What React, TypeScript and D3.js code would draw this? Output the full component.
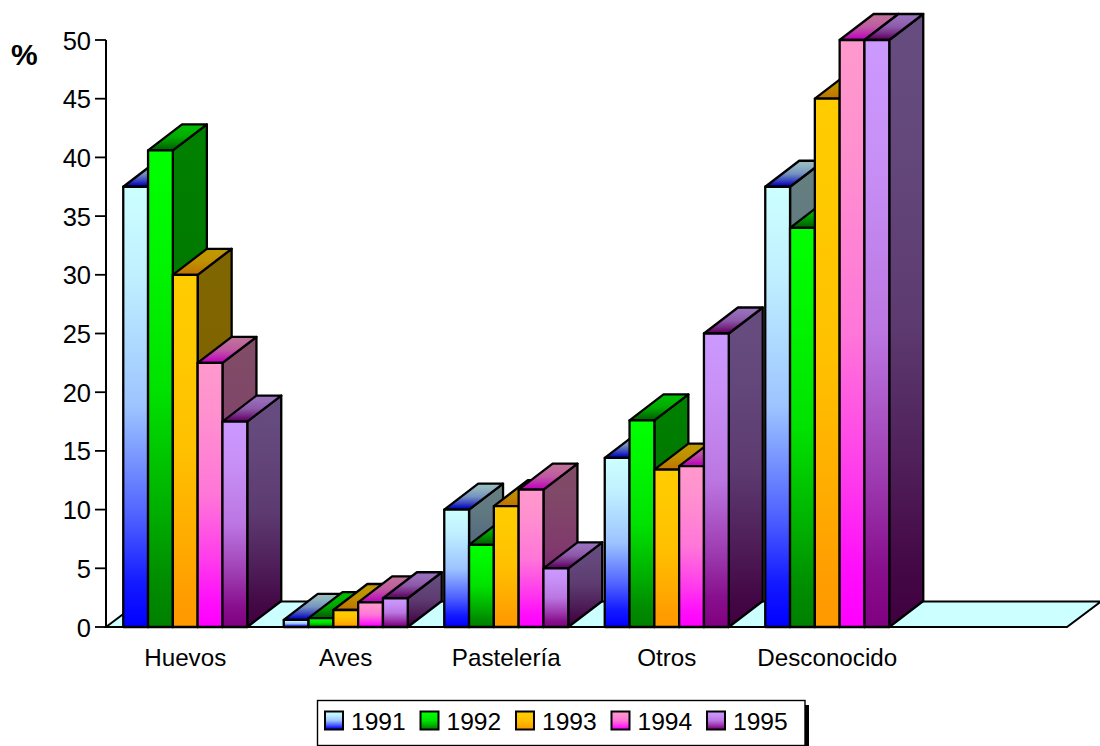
import React from "react";
import * as d3 from "d3";

const categories = ["Huevos", "Aves", "Pastelería", "Otros", "Desconocido", ""];
const years = ["1991", "1992", "1993", "1994", "1995"];
const v1991 = [37.5, 0.6, 10, 14.4, 37.5];
const v1992 = [40.6, 0.75, 7, 17.6, 34];
const v1993 = [30, 1.45, 10.3, 13.4, 45];
const v1994 = [22.5, 2.1, 11.7, 13.7, 50];
const v1995 = [17.5, 2.45, 5, 25, 50];
const series = [v1991, v1992, v1993, v1994, v1995];
const topColors = ["#ccffff", "#00ff00", "#ffcc00", "#ff99cc", "#cc99ff"];
const bottomColors = ["#0000ff", "#008000", "#ff9900", "#ff00ff", "#800080"];
const floorColor = "#ccffff";

const FONT = "'Liberation Sans', Arial, sans-serif";
const depthX = 34;
const depthY = -26;
const floorLeft = 106;
const floorRight = 1067;

const x = d3.scaleBand<string>().domain(categories).range([105, 1068]);
const y = d3.scaleLinear().domain([0, 50]).range([627, 40]);
const barX = d3.scaleBand<string>().domain(years).range([0, 124]);
const legendX = d3.scaleBand<string>().domain(years).range([325, 802.5]);

// Fill ramp: holds the light colour near the top and eases into the dark one.
const rampStops: [number, number][] = [
  [0, 0],
  [0.2, 0.06],
  [0.5, 0.23],
  [0.75, 0.62],
  [0.9, 0.9],
  [1, 1],
];

// Scales a colour's channels; side and top faces are dimmed copies of the front.
const shade = (c: string, k: number) => {
  const r = d3.rgb(c);
  return d3.rgb(r.r * k, r.g * k, r.b * k).formatHex();
};

const polygon = (pts: [number, number][]) => d3.line()(pts) + "Z";

function Gradient({ id, from, to }: { id: string; from: string; to: string }) {
  const mix = d3.interpolateRgb(from, to);
  return (
    <linearGradient id={id} x1="0" y1="0" x2="0" y2="1">
      {rampStops.map(([offset, t]) => (
        <stop key={offset} offset={offset} stopColor={mix(t)} />
      ))}
    </linearGradient>
  );
}

function Bar({ cat, year, si, value }: { cat: string; year: string; si: number; value: number }) {
  const x0 = (x(cat) as number) + x.bandwidth() / 2 - 62 + (barX(year) as number);
  const x1 = x0 + barX.bandwidth();
  const yTop = y(value);
  const yBase = y(0);
  return (
    <g stroke="#000" strokeWidth={2.3} strokeLinejoin="round">
      <path
        d={polygon([[x1, yTop], [x1 + depthX, yTop + depthY], [x1 + depthX, yBase + depthY], [x1, yBase]])}
        fill={`url(#side${si})`}
      />
      <path
        d={polygon([[x0, yTop], [x0 + depthX, yTop + depthY], [x1 + depthX, yTop + depthY], [x1, yTop]])}
        fill={`url(#top${si})`}
      />
      <rect x={x0} y={yTop} width={x1 - x0} height={yBase - yTop} fill={`url(#front${si})`} />
    </g>
  );
}

export default function App() {
  const yBase = y(0);
  return (
    <svg
      width={1100}
      height={746}
      viewBox="0 0 1100 746"
      style={{ position: "absolute", left: 0, top: 0, display: "block", background: "#fff" }}
      fontFamily={FONT}
    >
      <defs>
        {years.map((yr, i) => (
          <React.Fragment key={yr}>
            <Gradient id={`front${i}`} from={topColors[i]} to={bottomColors[i]} />
            <Gradient id={`side${i}`} from={shade(topColors[i], 0.5)} to={shade(bottomColors[i], 0.5)} />
            <Gradient id={`top${i}`} from={shade(topColors[i], 0.75)} to={shade(bottomColors[i], 0.75)} />
          </React.Fragment>
        ))}
      </defs>

      {/* Floor of the 3D plot */}
      <path
        d={polygon([
          [floorLeft, yBase],
          [floorLeft + depthX, yBase + depthY + 0.5],
          [floorRight + depthX, yBase + depthY + 0.5],
          [floorRight, yBase],
        ])}
        fill={floorColor}
        stroke="#000"
        strokeWidth={2}
      />

      {/* Value axis */}
      <line x1={floorLeft} x2={floorLeft} y1={y(50)} y2={yBase} stroke="#000" strokeWidth={2} />
      {y.ticks(10).map((t) => (
        <g key={t}>
          <line x1={floorLeft - 11} x2={floorLeft} y1={y(t)} y2={y(t)} stroke="#000" strokeWidth={1.8} />
          <text x={floorLeft - 15} y={y(t) + 9.5} textAnchor="end" fontSize={25.5} fill="#000">
            {t}
          </text>
        </g>
      ))}
      <text x={11} y={65} fontSize={30} fontWeight="bold" fill="#000">
        %
      </text>

      {/* Bars, painted left to right so each one overlaps its neighbour's side */}
      {categories.slice(0, 5).map((cat, ci) => (
        <g key={cat}>
          {years.map((yr, si) => (
            <Bar key={yr} cat={cat} year={yr} si={si} value={series[si][ci]} />
          ))}
        </g>
      ))}

      {/* Category labels */}
      {categories.slice(0, 5).map((cat) => (
        <text
          key={cat}
          x={(x(cat) as number) + x.bandwidth() / 2}
          y={666}
          textAnchor="middle"
          fontSize={24.2}
          fill="#000"
        >
          {cat}
        </text>
      ))}

      {/* Legend */}
      <rect x={805} y={705} width={4} height={41} fill="#000" />
      <rect x={322} y={745} width={487} height={1} fill="#000" />
      <rect x={317.5} y={700.5} width={487.5} height={45} fill="#fff" stroke="#000" strokeWidth={1.4} />
      {years.map((yr, i) => {
        const lx = legendX(yr) as number;
        return (
          <g key={yr}>
            <rect x={lx} y={711.5} width={18} height={18} fill={`url(#front${i})`} stroke="#000" strokeWidth={2} />
            <text x={lx + 26} y={730} fontSize={24.6} fill="#000">
              {yr}
            </text>
          </g>
        );
      })}
    </svg>
  );
}
